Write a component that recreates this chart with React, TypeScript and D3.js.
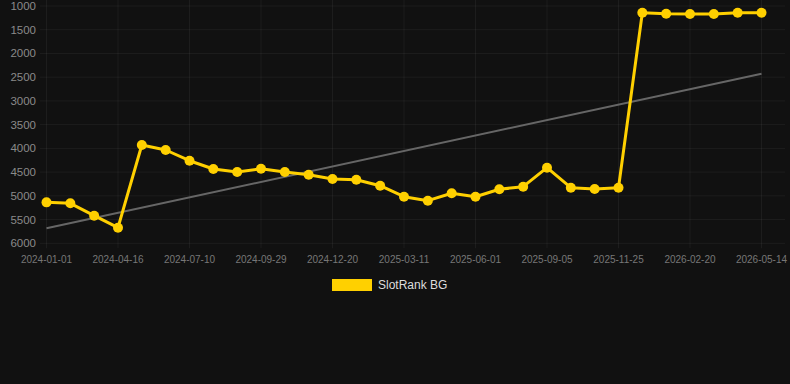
import { useEffect, useRef } from "react"
import * as d3 from "d3"

const dates = [
  "2024-01-01", "2024-02-05", "2024-03-12", "2024-04-16", "2024-05-14", "2024-06-11",
  "2024-07-10", "2024-08-06", "2024-09-02", "2024-09-29", "2024-10-26", "2024-11-23",
  "2024-12-20", "2025-01-16", "2025-02-13", "2025-03-11", "2025-04-08", "2025-05-05",
  "2025-06-01", "2025-07-04", "2025-08-03", "2025-09-05", "2025-10-02", "2025-10-29",
  "2025-11-25", "2025-12-23", "2026-01-22", "2026-02-20", "2026-03-20", "2026-04-17",
  "2026-05-14",
]

const ranks = [
  5137, 5158, 5418, 5671, 3929, 4034, 4260, 4434, 4498, 4428, 4498, 4555, 4645, 4660,
  4786, 5018, 5102, 4946, 5018, 4862, 4807, 4407, 4829, 4856, 4829, 1141, 1162, 1169,
  1169, 1141, 1141,
]

const yTicks = [1000, 1500, 2000, 2500, 3000, 3500, 4000, 4500, 5000, 5500, 6000]
const seriesName = "SlotRank BG"

const W = 790
const H = 384
const FONT = "'Liberation Sans', Arial, Helvetica, sans-serif"

const App = () => {
  const svgRef = useRef<SVGSVGElement | null>(null)

  useEffect(() => {
    if (!svgRef.current) return
    const svg = d3.select(svgRef.current)
    svg.selectAll("*").remove()

    const left = 40
    const right = 785
    const top = 6
    const bottom = 243.3

    svg.append("rect").attr("width", W).attr("height", H).attr("fill", "#111111")

    const x = d3.scalePoint<string>().domain(dates).range([46.5, 761.5])
    const y = d3.scaleLinear().domain([1000, 6000]).range([top, bottom])

    // only every third date gets a label and a grid line
    const labelDates = dates.filter((_, i) => i % 3 === 0)

    const g = svg.append("g")
    g.selectAll(".hgrid")
      .data(yTicks)
      .join("line")
      .attr("x1", left)
      .attr("x2", right)
      .attr("y1", (d) => y(d))
      .attr("y2", (d) => y(d))
      .attr("stroke", "rgba(255,255,255,0.05)")
      .attr("stroke-width", 1)

    g.selectAll(".vgrid")
      .data(labelDates)
      .join("line")
      .attr("x1", (d) => x(d) as number)
      .attr("x2", (d) => x(d) as number)
      .attr("y1", 0)
      .attr("y2", bottom + 5)
      .attr("stroke", "rgba(255,255,255,0.05)")
      .attr("stroke-width", 1)

    // y labels
    g.selectAll(".ylab")
      .data(yTicks)
      .join("text")
      .attr("x", 36)
      .attr("y", (d) => y(d))
      .attr("dy", "0.35em")
      .attr("text-anchor", "end")
      .attr("font-family", FONT)
      .attr("font-size", 11.5)
      .attr("fill", "#8a8a8a")
      .text((d) => d)

    // x labels
    g.selectAll(".xlab")
      .data(labelDates)
      .join("text")
      .attr("x", (d) => x(d) as number)
      .attr("y", 259)
      .attr("dy", "0.35em")
      .attr("text-anchor", "middle")
      .attr("font-family", FONT)
      .attr("font-size", 10)
      .attr("fill", "#777777")
      .text((d) => d)

    // linear trend (least squares over the series)
    const idx = ranks.map((_, i) => i)
    const mx = d3.mean(idx) as number
    const my = d3.mean(ranks) as number
    const slope =
      d3.sum(idx, (i) => (i - mx) * (ranks[i] - my)) / d3.sum(idx, (i) => (i - mx) * (i - mx))
    const icpt = my - slope * mx
    const n = dates.length - 1
    g.append("line")
      .attr("x1", x(dates[0]) as number)
      .attr("y1", y(icpt))
      .attr("x2", x(dates[n]) as number)
      .attr("y2", y(icpt + slope * n))
      .attr("stroke", "#666666")
      .attr("stroke-width", 2)

    // series
    const line = d3
      .line<number>()
      .x((_, i) => x(dates[i]) as number)
      .y((d) => y(d))

    g.append("path")
      .datum(ranks)
      .attr("d", line)
      .attr("fill", "none")
      .attr("stroke", "#FFD000")
      .attr("stroke-width", 3)
      .attr("stroke-linejoin", "round")

    g.selectAll(".pt")
      .data(ranks)
      .join("circle")
      .attr("cx", (_, i) => x(dates[i]) as number)
      .attr("cy", (d) => y(d))
      .attr("r", 5)
      .attr("fill", "#FFD000")

    // legend
    svg.append("rect")
      .attr("x", 332)
      .attr("y", 279)
      .attr("width", 40)
      .attr("height", 12)
      .attr("fill", "#FFD000")
    svg.append("text")
      .attr("x", 378)
      .attr("y", 285)
      .attr("dy", "0.35em")
      .attr("font-family", FONT)
      .attr("font-size", 12)
      .attr("fill", "#dddddd")
      .text(seriesName)
  }, [])

  return (
    <div style={{ position: "absolute", left: 0, top: 0, width: W, height: H }}>
      <svg ref={svgRef} width={W} height={H} style={{ display: "block" }} />
    </div>
  )
}

export default App
